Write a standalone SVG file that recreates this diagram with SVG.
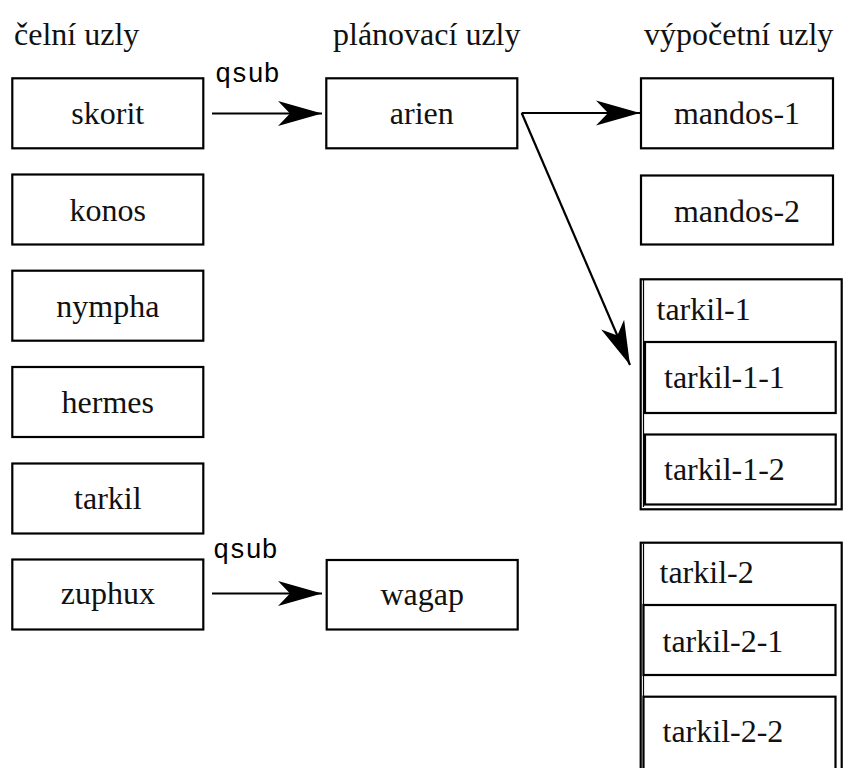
<svg xmlns="http://www.w3.org/2000/svg" width="843" height="768" viewBox="0 0 843 768">
<style>
  .box { fill: #fff; stroke: #000; stroke-width: 2.2; }
  .frame { fill: none; stroke: #000; stroke-width: 2.2; }
  .thin { fill: none; stroke: #000; stroke-width: 1.2; }
  .lbl { font-family: 'Liberation Serif', 'Times New Roman', serif; font-size: 32px; fill: #111; }
  .c { text-anchor: middle; }
  .mono { font-family: 'Liberation Mono', 'DejaVu Sans Mono', monospace; font-size: 27px; fill: #000; }
  .edge { stroke: #000; stroke-width: 2.2; fill: none; }
</style>
<defs>
  <marker id="ah" markerUnits="userSpaceOnUse" markerWidth="50" markerHeight="30" viewBox="-46 -15 48 30" refX="0" refY="0" orient="auto" overflow="visible">
    <path d="M0,0 L-44,-12.5 L-32,0 L-44,12.5 Z" fill="#000"/>
  </marker>
</defs>
<rect width="843" height="768" fill="#fff"/>

<g id="titles">
  <text class="lbl" x="14" y="45">čelní uzly</text>
  <text class="lbl" x="333" y="45">plánovací uzly</text>
  <text class="lbl" x="644" y="45">výpočetní uzly</text>
</g>

<g id="skorit"><rect class="box" x="12.3" y="78.3" width="191" height="70"/><text class="lbl c" x="107.8" y="124.3">skorit</text></g>
<g id="konos"><rect class="box" x="12.3" y="174.5" width="191" height="70"/><text class="lbl c" x="107.8" y="220.5">konos</text></g>
<g id="nympha"><rect class="box" x="12.3" y="270.7" width="191" height="70"/><text class="lbl c" x="107.8" y="316.7">nympha</text></g>
<g id="hermes"><rect class="box" x="12.3" y="367" width="191" height="70"/><text class="lbl c" x="107.8" y="413">hermes</text></g>
<g id="tarkil"><rect class="box" x="12.3" y="463.5" width="191" height="70"/><text class="lbl c" x="107.8" y="509.3">tarkil</text></g>
<g id="zuphux"><rect class="box" x="12.3" y="559.5" width="191" height="70"/><text class="lbl c" x="107.8" y="604">zuphux</text></g>

<g id="arien"><rect class="box" x="326.3" y="78.3" width="191" height="70"/><text class="lbl c" x="421.8" y="124.3">arien</text></g>
<g id="wagap"><rect class="box" x="326.7" y="560" width="191" height="69.5"/><text class="lbl c" x="422.2" y="605">wagap</text></g>

<g id="mandos-1"><rect class="box" x="641" y="78.3" width="192" height="70"/><text class="lbl c" x="737" y="124.3">mandos-1</text></g>
<g id="mandos-2"><rect class="box" x="641" y="175.5" width="192" height="69"/><text class="lbl c" x="737" y="221.5">mandos-2</text></g>

<g id="tarkil-1">
  <rect class="frame" x="640.7" y="279.3" width="201" height="230"/>
  <line class="thin" x1="643.5" y1="280" x2="643.5" y2="507"/>
  <text class="lbl" x="656.5" y="320">tarkil-1</text>
  <g id="tarkil-1-1"><rect class="box" x="645" y="342" width="190.7" height="71"/><text class="lbl" x="664" y="388">tarkil-1-1</text></g>
  <g id="tarkil-1-2"><rect class="box" x="645" y="434.5" width="190.7" height="70"/><text class="lbl" x="664" y="480">tarkil-1-2</text></g>
</g>

<g id="tarkil-2">
  <rect class="frame" x="640.7" y="542.7" width="201" height="240"/>
  <line class="thin" x1="643.5" y1="543.5" x2="643.5" y2="768"/>
  <text class="lbl" x="659.5" y="583">tarkil-2</text>
  <g id="tarkil-2-1"><rect class="box" x="643.5" y="605" width="192" height="70"/><text class="lbl" x="662.5" y="651.5">tarkil-2-1</text></g>
  <g id="tarkil-2-2"><rect class="box" x="643.5" y="696.7" width="192" height="80"/><text class="lbl" x="662.5" y="741.5">tarkil-2-2</text></g>
</g>

<g id="connectors">
  <line class="edge" x1="212" y1="113.5" x2="322" y2="113.5" marker-end="url(#ah)"/>
  <text class="mono" x="215" y="81.5">qsub</text>
  <line class="edge" x1="212" y1="593.5" x2="322" y2="593.5" marker-end="url(#ah)"/>
  <text class="mono" x="213" y="558">qsub</text>
  <line class="edge" x1="521.7" y1="113" x2="640" y2="113" marker-end="url(#ah)"/>
  <line class="edge" x1="521.7" y1="113" x2="630" y2="365" marker-end="url(#ah)"/>
</g>
</svg>
